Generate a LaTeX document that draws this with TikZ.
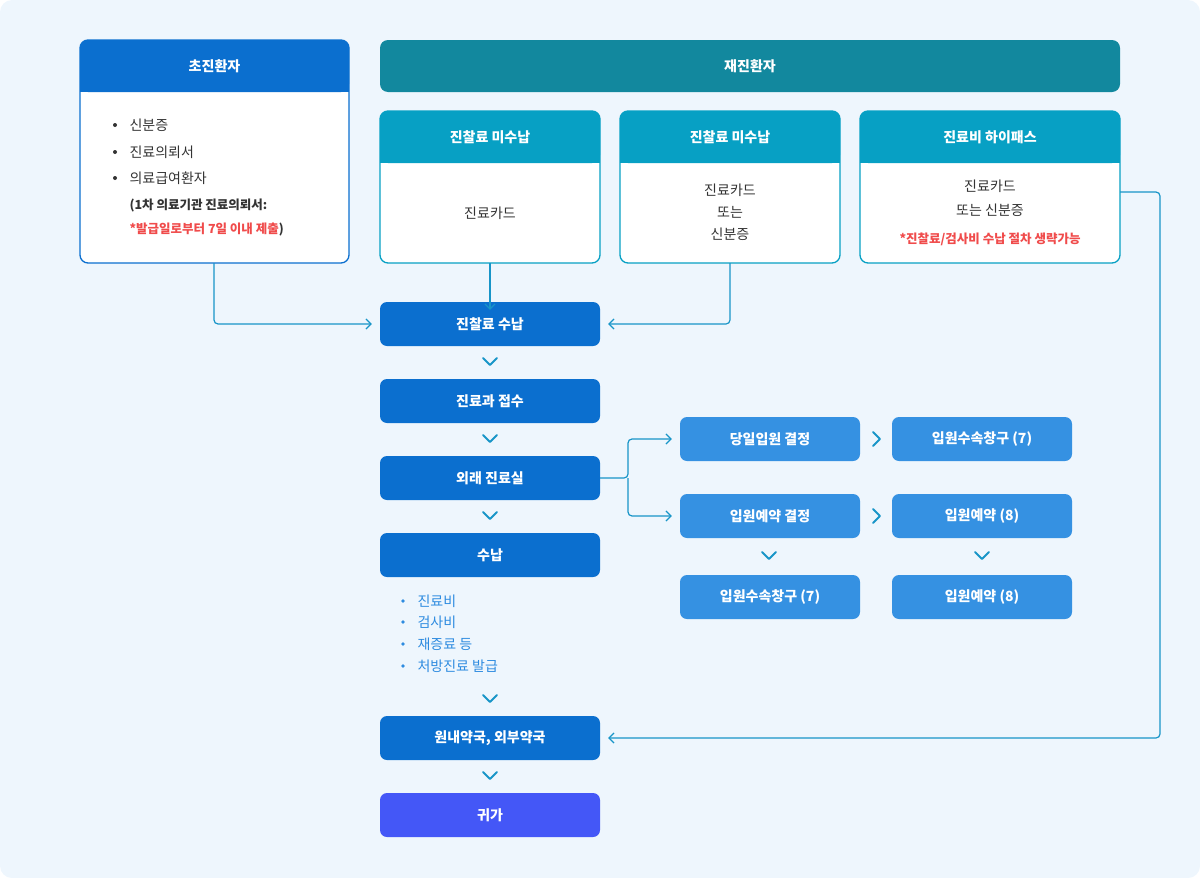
\documentclass[tikz,border=0pt]{standalone}
\usepackage{fontspec}
\setmainfont{Noto Sans CJK KR}
\usetikzlibrary{arrows.meta}
\definecolor{bg}{HTML}{EEF6FD}
\definecolor{navy}{HTML}{0B6FCF}
\definecolor{teal}{HTML}{12889E}
\definecolor{cyan}{HTML}{07A0C4}
\definecolor{lblue}{HTML}{3591E2}
\definecolor{purp}{HTML}{4457F7}
\definecolor{conn}{HTML}{1895C8}
\definecolor{txt}{HTML}{333333}
\definecolor{redt}{HTML}{F04B4B}
\definecolor{bull}{HTML}{2D8BE0}
\begin{document}
\begin{tikzpicture}[x=1pt,y=-1pt,
  stp/.style={fill=navy,rounded corners=7pt,minimum width=220pt,minimum height=44pt,text=white,font=\fontsize{14}{16}\selectfont\bfseries,inner sep=0},
  rstp/.style={stp,fill=lblue,minimum width=180pt},
  body/.style={text=txt,font=\fontsize{14}{22}\selectfont,align=center},
  htext/.style={text=white,font=\fontsize{14}{16}\selectfont\bfseries},
  conn/.style={draw=conn,line width=1.2pt,-{Straight Barb[length=5pt,width=10pt]}},
  chev/.style={draw=conn,line width=1.8pt,line cap=round,line join=round}]
\useasboundingbox (0,0) rectangle (1200,878);
\fill[bg,rounded corners=12pt] (0,0) rectangle (1200,878);
\newcommand{\mycard}[5]{%
  \fill[white,rounded corners=8pt] (#1,#2) rectangle (#3,#4);
  \fill[#5,rounded corners=8pt] (#1,#2) rectangle (#3,#2+52);
  \fill[#5] (#1,#2+30) rectangle (#3,#2+52);
  \draw[#5,line width=1.3pt,rounded corners=8pt] (#1,#2) rectangle (#3,#4);
}
\mycard{80}{40}{349}{263}{navy}
\node[htext] (h0) at (214.5,66) {초진환자};
\fill[teal,rounded corners=8pt] (380,40) rectangle (1120,92);
\node[htext] (re) at (750,66) {재진환자};
\mycard{380}{111}{600}{263}{cyan}
\mycard{620}{111}{840}{263}{cyan}
\mycard{860}{111}{1120}{263}{cyan}
\node[htext] (h1) at (490,137) {진찰료 미수납};
\node[htext] (h2) at (730,137) {진찰료 미수납};
\node[htext] (h3) at (990,137) {진료비 하이패스};
\node[body] (b1) at (490,213) {진료카드};
\node[body] (b2) at (730,212) {진료카드\\또는\\신분증};
\node[body,font=\fontsize{14}{24}\selectfont] (b3) at (990,198) {진료카드\\또는 신분증};
\node[text=redt,font=\fontsize{12.5}{15}\selectfont\bfseries] (r3) at (990,239) {*진찰료/검사비 수납 절차 생략가능};
\foreach \y/\t in {125/신분증,152/진료의뢰서,178/의료급여환자}{
  \fill[txt] (115,\y) circle (2pt);
  \node[text=txt,anchor=west,font=\fontsize{14}{16}\selectfont] at (126,\y) {\t};}
\node[text=txt,anchor=west,font=\fontsize{12.5}{15}\selectfont\bfseries] (n1) at (126,205) {(1차 의료기관 진료의뢰서:};
\node[anchor=west,font=\fontsize{12.5}{15}\selectfont\bfseries] (n2) at (126,229) {\textcolor{redt}{*발급일로부터 7일 이내 제출}\textcolor{txt}{)}};
\node[stp] (s1) at (490,324) {진찰료 수납};
\node[stp] (s2) at (490,401) {진료과 접수};
\node[stp] (s3) at (490,478) {외래 진료실};
\node[stp] (s4) at (490,555) {수납};
\node[stp] (s5) at (490,738) {원내약국, 외부약국};
\node[stp,fill=purp] (s6) at (490,815) {귀가};
\node[rstp] (a1) at (770,439) {당일입원 결정};
\node[rstp] (a2) at (982,439) {입원수속창구 (7)};
\node[rstp] (b1r) at (770,516) {입원예약 결정};
\node[rstp] (b2r) at (982,516) {입원예약 (8)};
\node[rstp] (c1r) at (770,597) {입원수속창구 (7)};
\node[rstp] (c2r) at (982,597) {입원예약 (8)};
\foreach \y/\t in {601/진료비,622/검사비,644/재증료 등,666/처방진료 발급}{
  \fill[bull] (403,\y) circle (1.8pt);
  \node[text=bull,anchor=west,font=\fontsize{14}{16}\selectfont] at (414,\y) {\t};}
\foreach \y in {358,435,512,695,772}{\draw[chev] (483,\y)--(490,\y+7)--(497,\y);}
\draw[chev] (762,552)--(769,559)--(776,552);
\draw[chev] (975,552)--(982,559)--(989,552);
\draw[chev] (873,432)--(880,439)--(873,446);
\draw[chev] (873,509)--(880,516)--(873,523);
\coordinate (p0) at (214,263);
\coordinate (p1) at (490,263);
\coordinate (p2) at (730,263);
\coordinate (p3) at (1120,192);
\coordinate (br) at (628,478);
\draw[conn,rounded corners=4pt] (p0) |- ([xshift=-8pt]s1.west);
\draw[conn] (p1) -- ([yshift=-8pt]s1.north);
\draw[conn,rounded corners=4pt] (p2) |- ([xshift=8pt]s1.east);
\draw[conn,rounded corners=4pt] (p3) -- (1160,192) |- ([xshift=8pt]s5.east);
\draw[conn,rounded corners=4pt] (s3.east) -- (br) |- ([xshift=-8pt]a1.west);
\draw[conn,rounded corners=4pt] (br) |- ([xshift=-8pt]b1r.west);
\end{tikzpicture}
\end{document}
